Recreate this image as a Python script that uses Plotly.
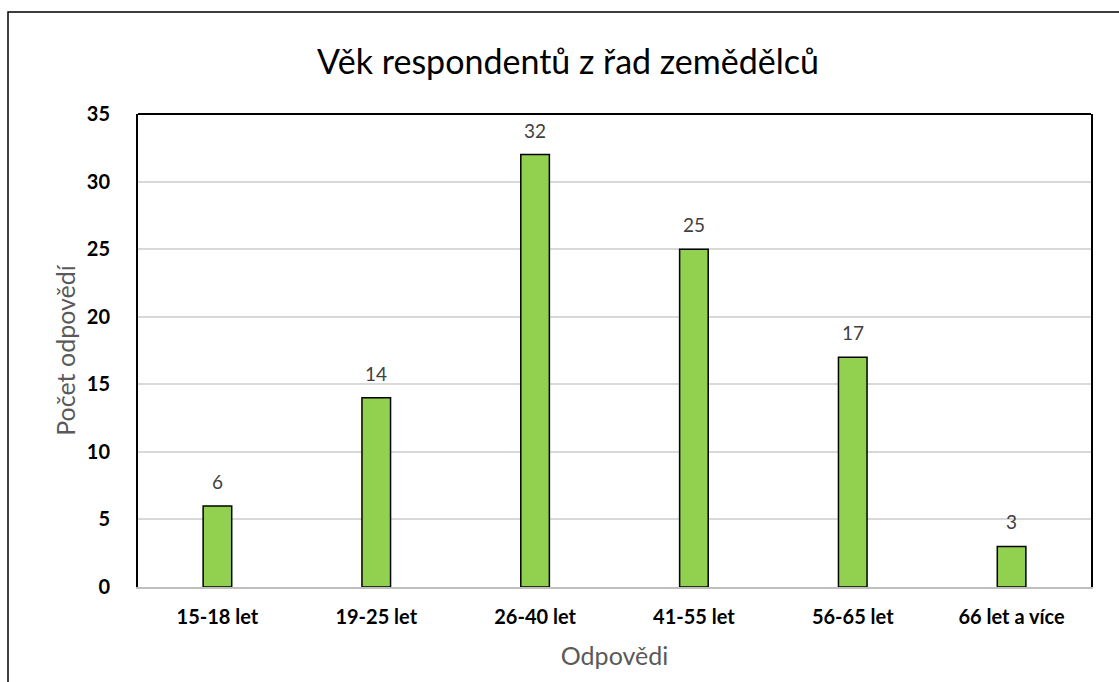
import plotly.graph_objects as go

categories = ["15-18 let", "19-25 let", "26-40 let", "41-55 let", "56-65 let", "66 let a více"]
values = [6, 14, 32, 25, 17, 3]
y_ticks = [0, 5, 10, 15, 20, 25, 30, 35]

FONT = "Lato"

fig = go.Figure()
fig.add_trace(go.Bar(
    x=categories, y=values,
    marker=dict(color="#92d050", line=dict(color="#000000", width=1.5)),
    width=0.18,
    hoverinfo="x+y",
))

for c, v in zip(categories, values):
    fig.add_annotation(x=c, y=v, text=str(v), showarrow=False, yanchor="bottom",
                       yshift=11, font=dict(family=FONT, size=19, color="#404040"))

W, H = 1119, 682
L, R, T, B = 138, 28, 114, 95
pw, ph = W - L - R, H - T - B

def px(x):
    return (x - L) / pw

def py(y):
    return (H - B - y) / ph

fig.update_layout(
    width=W, height=H,
    margin=dict(l=L, r=R, t=T, b=B),
    paper_bgcolor="white", plot_bgcolor="white",
    showlegend=False,
    title=dict(text="Věk respondentů z řad zemědělců", x=568 / W, xref="container", xanchor="center",
               y=1 - 62 / H, yanchor="middle",
               font=dict(family=FONT, size=34, color="#000000")),
    xaxis=dict(
        title=dict(text="Odpovědi", font=dict(family=FONT, size=25, color="#595959"), standoff=21),
        tickfont=dict(family=FONT, size=20, color="#000000", weight="bold"),
        showline=True, linecolor="#bfbfbf", linewidth=1.5,
        showgrid=False, ticks="", ticklabelstandoff=11,
    ),
    yaxis=dict(
        title=dict(text="Počet odpovědí", font=dict(family=FONT, size=25, color="#595959"), standoff=4),
        tickfont=dict(family=FONT, size=20, color="#000000", weight="bold"),
        range=[0, 35], tickvals=y_ticks,
        showgrid=True, gridcolor="#d9d9d9", gridwidth=1.5,
        showline=True, linecolor="#000000", linewidth=2, mirror=True,
        zeroline=False, ticks="", ticklabelstandoff=22,
    ),
    shapes=[
        dict(type="line", xref="paper", yref="paper", x0=0, x1=1, y0=1, y1=1,
             line=dict(color="#000000", width=2)),
        dict(type="rect", xref="paper", yref="paper", x0=px(8), x1=px(W + 20),
             y0=py(H + 20), y1=py(12), line=dict(color="#000000", width=1.5)),
    ],
)

fig.write_html("out.html", config={"displayModeBar": False},
               post_script="document.body.style.margin='0';")
